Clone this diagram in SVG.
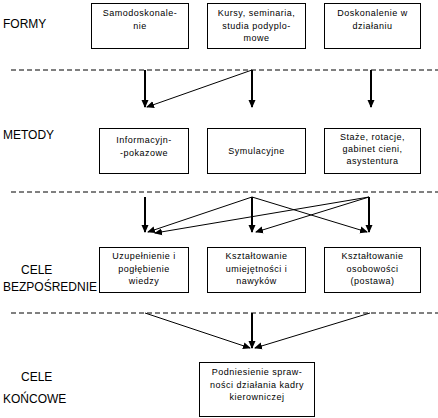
<svg xmlns="http://www.w3.org/2000/svg" width="438" height="418" viewBox="0 0 438 418">
<defs>
<style>
.box{fill:#fff;stroke:#000;stroke-width:1}
.t{font-family:"Liberation Sans",Arial,sans-serif;font-size:9px;letter-spacing:0.5px;text-anchor:middle;fill:#000}
.lbl{font-family:"Liberation Sans",Arial,sans-serif;font-size:12px;fill:#000}
.dash{stroke:#000;stroke-width:1;stroke-dasharray:5,3;fill:none}
.thick{stroke:#000;stroke-width:2;fill:none;marker-end:url(#ah)}
.thin{stroke:#000;stroke-width:1;fill:none;marker-end:url(#ah)}
</style>
<marker id="ah" markerUnits="userSpaceOnUse" markerWidth="8" markerHeight="8" refX="7" refY="4" orient="auto">
<path d="M0,0.5 L8,4 L0,7.5 z" fill="#000"/>
</marker>
</defs>
<rect width="438" height="418" fill="#fff"/>
<g id="labels">
<text class="lbl" x="3" y="28">FORMY</text>
<text class="lbl" x="3" y="139">METODY</text>
<text class="lbl" x="21" y="274">CELE</text>
<text class="lbl" x="3" y="291">BEZPOŚREDNIE</text>
<text class="lbl" x="21" y="381">CELE</text>
<text class="lbl" x="3" y="403">KOŃCOWE</text>
</g>
<g id="dividers">
<line class="dash" x1="11" y1="70" x2="438" y2="70"/>
<line class="dash" x1="11" y1="192" x2="438" y2="192"/>
<line class="dash" x1="11" y1="313" x2="438" y2="313"/>
</g>
<g id="forma1"><rect class="box" x="91.5" y="3.5" width="97" height="45"/>
<text class="t" x="140" y="16">Samodoskonale-</text><text class="t" x="140" y="29">nie</text></g>
<g id="forma2"><rect class="box" x="207.5" y="3.5" width="98" height="45"/>
<text class="t" x="256.5" y="16">Kursy, seminaria,</text><text class="t" x="256.5" y="28.5">studia podyplo-</text><text class="t" x="256.5" y="41">mowe</text></g>
<g id="forma3"><rect class="box" x="324.5" y="3.5" width="96" height="45"/>
<text class="t" x="372.5" y="16">Doskonalenie w</text><text class="t" x="372.5" y="29">działaniu</text></g>
<g id="metoda1"><rect class="box" x="99.5" y="128.5" width="89" height="45"/>
<text class="t" x="144" y="143">Informacyjn-</text><text class="t" x="144" y="156">-pokazowe</text></g>
<g id="metoda2"><rect class="box" x="207.5" y="128.5" width="98" height="45"/>
<text class="t" x="256.5" y="154">Symulacyjne</text></g>
<g id="metoda3"><rect class="box" x="324.5" y="128.5" width="96" height="45"/>
<text class="t" x="372.5" y="140">Staże, rotacje,</text><text class="t" x="372.5" y="152">gabinet cieni,</text><text class="t" x="372.5" y="164">asystentura</text></g>
<g id="cel1"><rect class="box" x="99.5" y="247.5" width="89" height="45"/>
<text class="t" x="144" y="259">Uzupełnienie i</text><text class="t" x="144" y="271.5">pogłębienie</text><text class="t" x="144" y="284">wiedzy</text></g>
<g id="cel2"><rect class="box" x="207.5" y="247.5" width="98" height="45"/>
<text class="t" x="256.5" y="259">Kształtowanie</text><text class="t" x="256.5" y="271.5">umiejętności i</text><text class="t" x="256.5" y="284">nawyków</text></g>
<g id="cel3"><rect class="box" x="324.5" y="247.5" width="96" height="45"/>
<text class="t" x="372.5" y="259">Kształtowanie</text><text class="t" x="372.5" y="271.5">osobowości</text><text class="t" x="372.5" y="284">(postawa)</text></g>
<g id="celkoncowy"><rect class="box" x="199.5" y="362.5" width="115" height="54"/>
<text class="t" x="257" y="375">Podniesienie spraw-</text><text class="t" x="257" y="387.5">ności działania kadry</text><text class="t" x="257" y="400">kierowniczej</text></g>
<g id="connectors">
<line class="thick" x1="145" y1="70" x2="145" y2="107"/>
<line class="thick" x1="252" y1="70" x2="252" y2="107"/>
<line class="thick" x1="371" y1="70" x2="371" y2="107"/>
<line class="thin" x1="252" y1="70" x2="147" y2="107"/>
<line class="thick" x1="145" y1="197" x2="145" y2="232"/>
<line class="thick" x1="252" y1="197" x2="252" y2="232"/>
<line class="thick" x1="369" y1="197" x2="369" y2="232"/>
<line class="thin" x1="252" y1="197" x2="148" y2="232"/>
<line class="thin" x1="369" y1="197" x2="155" y2="233"/>
<line class="thin" x1="252" y1="197" x2="367" y2="232"/>
<line class="thin" x1="369" y1="197" x2="256" y2="232"/>
<line class="thin" x1="145" y1="313" x2="250" y2="348"/>
<line class="thick" x1="252" y1="313" x2="252" y2="348"/>
<line class="thin" x1="370" y1="313" x2="255" y2="348"/>
</g>
</svg>
